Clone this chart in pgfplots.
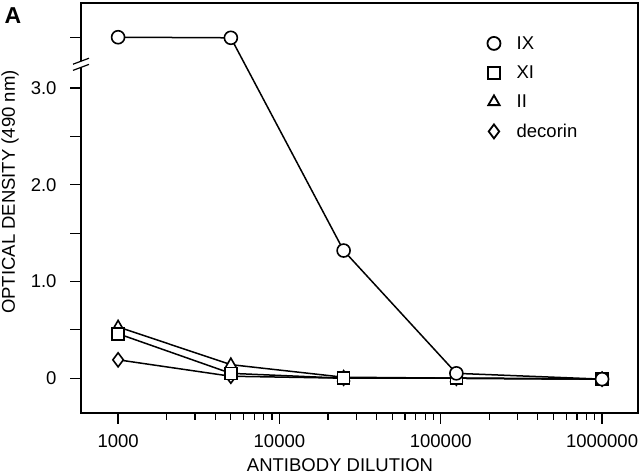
\documentclass[border=0pt]{standalone}
\usepackage{pgfplots}
\pgfplotsset{compat=1.18}
\usepackage{fontspec}
\setmainfont{Liberation Sans}
\newcommand{\chartfont}{\fontsize{18.5}{22}\selectfont}
\begin{document}
\begin{tikzpicture}
\begin{axis}[
  scale only axis, width=557pt, height=410pt,
  xmode=log, log basis x=10,
  xmin=589, xmax=1.67e6,
  ymin=-0.36, ymax=3.88,
  clip=false,
  xtick={1000,10000,100000,1000000},
  xticklabels={1000,10000,100000,1000000},
  minor xtick={2000,3000,4000,5000,6000,7000,8000,9000,20000,30000,40000,50000,60000,70000,80000,90000,200000,300000,400000,500000,600000,700000,800000,900000},
  ytick={0,0.5,1,1.5,2,2.5,3,3.526},
  yticklabels={0,,1.0,,2.0,,3.0,},
  tick align=outside,
  tick pos=left,
  major tick length=11pt, minor tick length=7pt,
  axis line style={line width=1.3pt},
  tick style={line width=1.2pt, black},
  ticklabel style={font=\chartfont},
  xticklabel style={yshift=-7pt},
  yticklabel style={xshift=-10pt},
  every axis plot/.append style={line width=1.5pt, black, mark options={fill=white, solid, line width=1.6pt}},
  legend style={draw=none, fill=none, at={(0.719,0.929)}, anchor=north west, font=\chartfont, row sep=11pt},
  legend cell align=left,
  legend image code/.code={\draw[#1, only marks] plot coordinates {(0.3cm,0cm)}; \path (0cm,0cm) (1.0cm,0cm);},
]
\addlegendimage{mark=*, mark size=6.5pt, mark options={fill=white, line width=1.8pt}}
\addlegendentry{IX}
\addlegendimage{mark=square*, mark size=6pt, mark options={fill=white, line width=1.8pt}}
\addlegendentry{XI}
\addlegendimage{mark=triangle*, mark size=6.5pt, mark options={fill=white, line width=1.8pt}}
\addlegendentry{II}
\addlegendimage{mark=diamond*, mark size=7pt, mark options={fill=white, line width=1.8pt}}
\addlegendentry{decorin}

\addplot[mark=diamond*, mark size=7pt, forget plot] coordinates {(1000,0.19)(5000,0.02)(25000,0.0)(125000,0.0)(1000000,-0.01)};
\addplot[mark=triangle*, mark size=6.5pt, forget plot] coordinates {(1000,0.53)(5000,0.14)(25000,0.01)(125000,0.0)(1000000,-0.01)};
\addplot[mark=square*, mark size=6pt, forget plot] coordinates {(1000,0.46)(5000,0.05)(25000,0.0)(125000,0.0)(1000000,-0.01)};
\addplot[mark=*, mark size=6.5pt, forget plot] coordinates {(1000,3.526)(5000,3.52)(25000,1.32)(125000,0.05)(1000000,-0.01)};

% axis break
\fill[white] ([xshift=-2pt]rel axis cs:0,0.843) rectangle ([xshift=2pt]rel axis cs:0,0.858);
\draw[line width=1.2pt] ([xshift=-8pt,yshift=-3pt]rel axis cs:0,0.858) -- ([xshift=8pt,yshift=3pt]rel axis cs:0,0.858);
\draw[line width=1.2pt] ([xshift=-8pt,yshift=-3pt]rel axis cs:0,0.843) -- ([xshift=8pt,yshift=3pt]rel axis cs:0,0.843);

% labels
\node[rotate=90, font=\chartfont] at ([xshift=-71pt]rel axis cs:0,0.539) {OPTICAL DENSITY (490 nm)};
\node[font=\chartfont] at ([yshift=-52pt]rel axis cs:0.465,0) {ANTIBODY DILUTION};
\node[font=\fontsize{23}{27}\selectfont\bfseries] at ([xshift=-68pt,yshift=-13pt]rel axis cs:0,1) {A};
\end{axis}
\pgfresetboundingbox
\path ([xshift=-81pt,yshift=-62pt]current axis.south west) rectangle ([xshift=2pt,yshift=3pt]current axis.north east);
\end{tikzpicture}
\end{document}
